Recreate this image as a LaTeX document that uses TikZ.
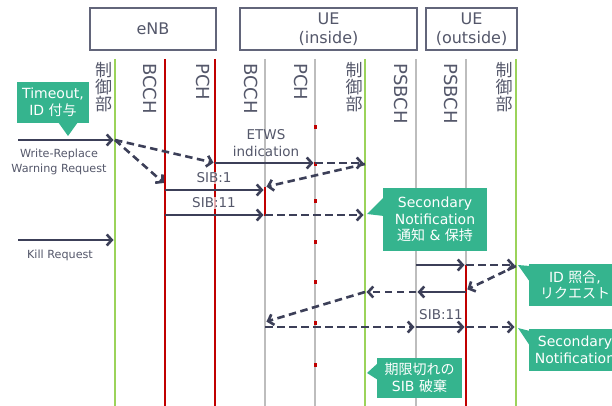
\documentclass[tikz,border=0pt]{standalone}
\usepackage{fontspec}
\setmainfont{DejaVu Sans}
\newfontfamily\jp{Noto Sans CJK JP}
\usetikzlibrary{arrows.meta}

\definecolor{ink}{HTML}{3C3F58}
\definecolor{txt}{HTML}{54576A}
\definecolor{ctrl}{HTML}{9BD35A}
\definecolor{chred}{HTML}{C00000}
\definecolor{chgray}{HTML}{BDBDBD}
\definecolor{note}{HTML}{35B48E}
\definecolor{hdr}{HTML}{62657A}

\begin{document}
\begin{tikzpicture}[x=1pt,y=-1pt,
  life/.style={line width=2.5pt},
  ctrlline/.style={life, draw=ctrl},
  redline/.style={life, draw=chred},
  grayline/.style={life, draw=chgray},
  msg/.style={draw=ink, line width=2.6pt, shorten >=1.5pt,
    -{Straight Barb[length=5pt,width=11pt]}},
  async/.style={msg, dash pattern=on 7.5pt off 4.5pt},
  header/.style={draw=hdr, line width=1.2pt, text=txt, align=center,
    inner sep=0pt, font=\fontsize{16}{18.5}\selectfont},
  vlab/.style={rotate=-90, inner sep=0pt, text=txt,
    font=\fontsize{18}{18}\selectfont},
  ctrllab/.style={inner sep=0pt, text=txt, align=center,
    font=\jp\fontsize{17}{16.8}\selectfont},
  msglab/.style={inner sep=1pt, text=txt, align=center,
    font=\fontsize{13.5}{17}\selectfont},
  reqlab/.style={inner sep=0pt, text=txt, align=center,
    font=\fontsize{11.2}{15}\selectfont},
  callout/.style={fill=note, text=white, align=center, inner sep=0pt,
    font=\fontsize{14}{16.5}\selectfont},
  dot/.style={fill=chred}
]
\useasboundingbox (0,0) rectangle (612,406);

% ---- entity headers
\node[header, minimum width=126pt, minimum height=42pt] (enb) at (153,29) {eNB};
\node[header, minimum width=177pt, minimum height=42pt] (uein) at (328.5,29) {UE\\(inside)};
\node[header, minimum width=91pt, minimum height=42pt] (ueout) at (471.5,29) {UE\\(outside)};

% ---- lifeline tops
\coordinate (eC) at (115,59);
\coordinate (eB) at (165,59);
\coordinate (eP) at (215,59);
\coordinate (iB) at (265,59);
\coordinate (iP) at (315,59);
\coordinate (iC) at (365,59);
\coordinate (iS) at (416,59);
\coordinate (oS) at (466,59);
\coordinate (oC) at (516,59);

% ---- lifelines
\draw[ctrlline] (eC) -- (eC |- 0,406);
\draw[redline]  (eB) -- (eB |- 0,406);
\draw[redline]  (eP) -- (eP |- 0,406);
\draw[grayline] (iB) -- (iB |- 0,406);
\draw[grayline] (iP) -- (iP |- 0,406);
\draw[ctrlline] (iC) -- (iC |- 0,406);
\draw[grayline] (iS) -- (iS |- 0,406);
\draw[grayline] (oS) -- (oS |- 0,406);
\draw[ctrlline] (oC) -- (oC |- 0,406);

% active segments
\draw[redline] (iB |- 0,187) -- (iB |- 0,216);
\draw[redline] (oS |- 0,265) -- (oS |- 0,406);

% paging occasions on the UE PCH
\foreach \yy in {127,164,201,242,282,323,365}
  \fill[dot] (313.5,\yy-1.8) rectangle (316.5,\yy+1.8);

% ---- lifeline labels
\node[ctrllab, anchor=north] (lc1) at (103.5,62) {制\\御\\部};
\node[vlab, anchor=base west] (lb1) at (143,63) {BCCH};
\node[vlab, anchor=base west] (lp1) at (196,63) {PCH};
\node[vlab, anchor=base west] (lb2) at (244,63) {BCCH};
\node[vlab, anchor=base west] (lp2) at (294,63) {PCH};
\node[ctrllab, anchor=north] (lc2) at (354,62) {制\\御\\部};
\node[vlab, anchor=base west] (ls2) at (394,63) {PSBCH};
\node[vlab, anchor=base west] (ls3) at (444,63) {PSBCH};
\node[ctrllab, anchor=north] (lc3) at (504,62) {制\\御\\部};

% ---- message labels
\node[msglab] (etws) at (266,143.5) {ETWS\\indication};
\node[msglab, fill=white, fill opacity=0.7, text opacity=1] (sib1) at (214,178) {SIB:1};
\node[msglab, fill=white, fill opacity=0.7, text opacity=1] (sib11) at (214,203) {SIB:11};
\node[msglab] (sib11b) at (441,315) {SIB:11};
\node[reqlab] (wrr) at (59,161.5) {Write-Replace\\Warning Request};
\node[reqlab] (kill) at (60,255.5) {Kill Request};

% ---- messages
\coordinate (src1) at (18,140);
\coordinate (src2) at (18,240);
\draw[msg]   (src1) -- (eC |- 0,140);
\draw[async] (eC |- 0,140) -- (eP |- 0,163);
\draw[async] (eC |- 0,140) -- (eB |- 0,184);
\draw[msg]   (eP |- 0,163) -- (iP |- 0,163);
\draw[async] (iP |- 0,163) -- (iC |- 0,163);
\draw[async] (iC |- 0,164) -- (iB |- 0,187);
\draw[msg]   (eB |- 0,190) -- (iB |- 0,190);
\draw[msg]   (eB |- 0,215) -- (iB |- 0,215);
\draw[async] (iB |- 0,215) -- (iC |- 0,215);
\draw[msg]   (src2) -- (eC |- 0,240);
\draw[msg]   (iS |- 0,265) -- (oS |- 0,265);
\draw[async] (oS |- 0,265) -- (oC |- 0,265);
\draw[async] (oC |- 0,266) -- (oS |- 0,290);
\draw[msg]   (oS |- 0,292) -- (iS |- 0,292);
\draw[async] (iS |- 0,292) -- (iC |- 0,292);
\draw[async] (iC |- 0,292) -- (iB |- 0,322);
\draw[async] (iB |- 0,327) -- (iS |- 0,327);
\draw[msg]   (iS |- 0,327) -- (oS |- 0,327);
\draw[async] (oS |- 0,327) -- (oC |- 0,327);

% ---- callouts
\node[callout, minimum width=72pt, minimum height=41pt] (timeout) at (53,102.5)
  {Timeout,\\ID {\jp 付与}};
\fill[note] (58,122) -- (68,136) -- (78,122) -- cycle;

\node[callout, minimum width=104pt, minimum height=63pt] (secA) at (435,219.5)
  {Secondary\\Notification\\{\jp 通知} \& {\jp 保持}};
\fill[note] (384,197) -- (367,214) -- (384,216) -- cycle;

\node[callout, minimum width=92pt, minimum height=42pt] (idchk) at (575,285)
  {ID {\jp 照合},\\{\jp リクエスト}};
\fill[note] (530,266) -- (518,265) -- (530,282) -- cycle;

\node[callout, minimum width=92pt, minimum height=42pt] (secB) at (575,350)
  {Secondary\\Notification};
\fill[note] (530,331) -- (518,328) -- (530,346) -- cycle;

\node[callout, minimum width=85pt, minimum height=40pt] (expire) at (419.5,378)
  {{\jp 期限切れの}\\SIB {\jp 破棄}};
\fill[note] (378,363) -- (367,373) -- (378,380) -- cycle;
\end{tikzpicture}
\end{document}
